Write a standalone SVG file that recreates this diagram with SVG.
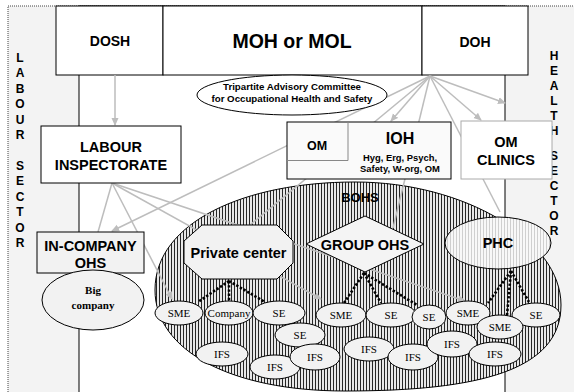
<svg xmlns="http://www.w3.org/2000/svg" width="574" height="392" viewBox="0 0 574 392">
<style>
.sans{font-family:"Liberation Sans",Arial,sans-serif;font-weight:bold;fill:#000;text-anchor:middle}
.ser{font-family:"Liberation Serif","Times New Roman",serif;fill:#000;text-anchor:middle;font-size:11px}
.side{font-family:"Liberation Sans",Arial,sans-serif;font-weight:bold;font-size:12px;fill:#000;text-anchor:middle}
.box{fill:#fff;stroke:#000;stroke-width:1}
.sm{fill:#f2f2f2;stroke:#000;stroke-width:1}
.gl{fill:none;stroke:#bdbdbd;stroke-width:1.5}
.dl{fill:none;stroke:#000;stroke-width:2.6;stroke-dasharray:2.4 1.8}
</style>
<defs>
<pattern id="hatch" x="0" y="0" width="3" height="10" patternUnits="userSpaceOnUse">
<rect width="3" height="10" fill="#e8e8e8"/><rect width="1" height="10" fill="#262626"/>
</pattern>
<pattern id="hatch2" x="0" y="0" width="3" height="10" patternUnits="userSpaceOnUse">
<rect width="3" height="10" fill="#f8f8f8"/><rect width="1" height="10" fill="#cfcfcf"/>
</pattern>
<marker id="ar" markerWidth="8" markerHeight="8" refX="7" refY="4" orient="auto" markerUnits="userSpaceOnUse">
<path d="M0,0.5 L8,4 L0,7.5 Z" fill="#bdbdbd"/>
</marker>
</defs>

<g id="background">
<rect x="8" y="6" width="570" height="390" fill="#f3f3f3" stroke="#444" stroke-width="1" stroke-dasharray="1 1"/>
<rect x="79" y="6" width="426" height="390" fill="#fff" stroke="#000" stroke-width="1"/>
<g class="side">
<text x="20" y="61.5">L</text><text x="20" y="77">A</text><text x="20" y="92.5">B</text><text x="20" y="108">O</text><text x="20" y="123.5">U</text><text x="20" y="139">R</text>
<text x="20" y="169.5">S</text><text x="20" y="185">E</text><text x="20" y="200.5">C</text><text x="20" y="216">T</text><text x="20" y="231.5">O</text><text x="20" y="247">R</text>
<text x="554" y="59.5">H</text><text x="554" y="74.5">E</text><text x="554" y="89.5">A</text><text x="554" y="104.5">L</text><text x="554" y="119.5">T</text><text x="554" y="134.5">H</text>
<text x="554" y="159.5">S</text><text x="554" y="174.5">E</text><text x="554" y="189.5">C</text><text x="554" y="204.5">T</text><text x="554" y="219.5">O</text><text x="554" y="234.5">R</text>
</g>
</g>

<g id="dosh"><rect class="box" x="56" y="6" width="107" height="69"/><text class="sans" x="110" y="46" font-size="14">DOSH</text></g>
<g id="moh"><rect class="box" x="163" y="6" width="259" height="69"/><text class="sans" x="292" y="48" font-size="19.5">MOH or MOL</text></g>
<g id="doh"><rect class="box" x="422" y="6" width="106" height="69"/><text class="sans" x="475" y="47" font-size="14">DOH</text></g>

<g id="bohs">
<path d="M155,290 C155,222 245,182 355,182 C465,182 561,240 561,305 C561,370 480,391 345,391 C230,391 155,350 155,290 Z" fill="url(#hatch)" stroke="#000" stroke-width="1"/>
<text class="sans" x="360" y="201.5" font-size="13">BOHS</text>
</g>

<g id="connectors">
<line class="gl" x1="115" y1="75" x2="115" y2="125" marker-end="url(#ar)"/>
<line class="gl" x1="430" y1="76" x2="505" y2="103" marker-end="url(#ar)"/>
<line class="gl" x1="430" y1="76" x2="481" y2="120" marker-end="url(#ar)"/>
<line class="gl" x1="430" y1="76" x2="391" y2="121" marker-end="url(#ar)"/>
<line class="gl" x1="430" y1="76" x2="500" y2="212"/>
<line class="gl" x1="430" y1="76" x2="112" y2="231" marker-end="url(#ar)"/>
<line class="gl" x1="430" y1="76" x2="393" y2="228"/>
<line class="gl" x1="430" y1="76" x2="250" y2="225"/>
<line class="gl" x1="112" y1="183" x2="98" y2="232"/>
<line class="gl" x1="112" y1="183" x2="172" y2="299" marker-end="url(#ar)"/>
<line class="gl" x1="112" y1="183" x2="321" y2="299" marker-end="url(#ar)"/>
<line class="gl" x1="112" y1="183" x2="465" y2="301" marker-end="url(#ar)"/>
<line class="gl" x1="86" y1="273" x2="85" y2="283" marker-end="url(#ar)"/>
</g>

<g id="tripartite"><ellipse cx="292" cy="95" rx="95" ry="20" fill="#fff" stroke="#000" stroke-width="1"/>
<text class="sans" x="292" y="89.5" font-size="9.7">Tripartite Advisory Committee</text>
<text class="sans" x="292" y="101.5" font-size="9.7">for Occupational Health and Safety</text></g>

<g id="labour-inspectorate"><rect class="box" x="41" y="126" width="140" height="57"/>
<text class="sans" x="111" y="152" font-size="14.5">LABOUR</text><text class="sans" x="111" y="170" font-size="14.5">INSPECTORATE</text></g>

<g id="ioh"><rect x="287" y="122" width="164" height="57" fill="#fafafa" stroke="#000" stroke-width="1"/>
<path d="M287,160.5 H348 V122" fill="none" stroke="#888" stroke-width="1"/>
<text class="sans" x="317" y="150" font-size="12.5">OM</text>
<text class="sans" x="400" y="144" font-size="16">IOH</text>
<text class="sans" x="400" y="160.5" font-size="9.4">Hyg, Erg, Psych,</text>
<text class="sans" x="400" y="171.5" font-size="9.4">Safety, W-org, OM</text></g>

<g id="om-clinics"><rect x="461" y="121" width="91" height="58" fill="#fff" stroke="#aaa" stroke-width="1"/>
<text class="sans" x="506" y="147" font-size="14.5">OM</text><text class="sans" x="506" y="165" font-size="14.5">CLINICS</text></g>

<g id="in-company-ohs"><rect x="37" y="232" width="107" height="41" fill="#f2f2f2" stroke="#000" stroke-width="1"/>
<text class="sans" x="90.5" y="251" font-size="14.5">IN-COMPANY</text><text class="sans" x="90.5" y="268" font-size="14.5">OHS</text></g>

<g id="big-company"><ellipse cx="93" cy="300" rx="51" ry="30" fill="#f2f2f2" stroke="#000" stroke-width="1"/>
<text class="ser" x="93" y="294" font-weight="bold">Big</text><text class="ser" x="93" y="309" font-weight="bold">company</text></g>

<g id="private-center"><polygon points="202,225 277,225 293,241 293,263 277,279 202,279 184,263 184,241" fill="#f2f2f2" stroke="#000" stroke-width="1"/>
<text class="sans" x="238.5" y="258" font-size="14.5">Private center</text></g>

<g id="group-ohs"><polygon points="306,244 365,216 424,244 365,272" fill="#f4f4f4" stroke="#000" stroke-width="1"/>
<text class="sans" x="365" y="250" font-size="14.5">GROUP OHS</text></g>

<g id="phc"><ellipse cx="498" cy="243" rx="53" ry="26" fill="url(#hatch2)" stroke="#000" stroke-width="1"/>
<text class="sans" x="498" y="248" font-size="14.5">PHC</text></g>

<g id="dotted">
<line class="dl" x1="229" y1="281" x2="198" y2="302"/>
<line class="dl" x1="229" y1="281" x2="229" y2="302"/>
<line class="dl" x1="229" y1="281" x2="265" y2="302"/>
<line class="dl" x1="364" y1="273" x2="344" y2="303"/>
<line class="dl" x1="364" y1="273" x2="381" y2="303"/>
<line class="dl" x1="364" y1="273" x2="417" y2="305"/>
<line class="dl" x1="511" y1="271" x2="488" y2="303"/>
<line class="dl" x1="511" y1="271" x2="507" y2="315"/>
<line class="dl" x1="511" y1="271" x2="529" y2="302"/>
</g>

<g id="sme-1"><ellipse class="sm" cx="179" cy="313" rx="24" ry="12"/><text class="ser" x="179" y="317">SME</text></g>
<g id="company"><ellipse class="sm" cx="229" cy="313" rx="24" ry="12"/><text class="ser" x="229" y="317">Company</text></g>
<g id="se-1"><ellipse class="sm" cx="279" cy="313" rx="26" ry="12"/><text class="ser" x="279" y="317">SE</text></g>
<g id="se-2"><ellipse class="sm" cx="300" cy="335" rx="25" ry="12"/><text class="ser" x="300" y="339">SE</text></g>
<g id="ifs-1"><ellipse class="sm" cx="222" cy="354" rx="26" ry="12"/><text class="ser" x="222" y="358">IFS</text></g>
<g id="ifs-2"><ellipse class="sm" cx="275" cy="367" rx="25" ry="12"/><text class="ser" x="275" y="371">IFS</text></g>
<g id="ifs-3"><ellipse class="sm" cx="315" cy="357" rx="25" ry="13"/><text class="ser" x="315" y="361">IFS</text></g>
<g id="sme-2"><ellipse class="sm" cx="341" cy="315" rx="25" ry="12"/><text class="ser" x="341" y="319">SME</text></g>
<g id="se-3"><ellipse class="sm" cx="391" cy="315" rx="25" ry="12"/><text class="ser" x="391" y="319">SE</text></g>
<g id="se-4"><ellipse class="sm" cx="429" cy="317" rx="17" ry="12"/><text class="ser" x="429" y="321">SE</text></g>
<g id="ifs-4"><ellipse class="sm" cx="369" cy="349" rx="25" ry="12"/><text class="ser" x="369" y="353">IFS</text></g>
<g id="ifs-5"><ellipse class="sm" cx="413" cy="357" rx="25" ry="13"/><text class="ser" x="413" y="361">IFS</text></g>
<g id="ifs-6"><ellipse class="sm" cx="452" cy="344" rx="25" ry="13"/><text class="ser" x="452" y="348">IFS</text></g>
<g id="sme-3"><ellipse class="sm" cx="468" cy="313" rx="22" ry="12"/><text class="ser" x="468" y="317">SME</text></g>
<g id="se-5"><ellipse class="sm" cx="536" cy="315" rx="24" ry="12"/><text class="ser" x="536" y="319">SE</text></g>
<g id="ifs-7"><ellipse class="sm" cx="495" cy="354" rx="26" ry="12"/><text class="ser" x="495" y="358">IFS</text></g>
<g id="sme-4"><ellipse class="sm" cx="500" cy="327" rx="23" ry="12"/><text class="ser" x="500" y="331">SME</text></g>
</svg>
